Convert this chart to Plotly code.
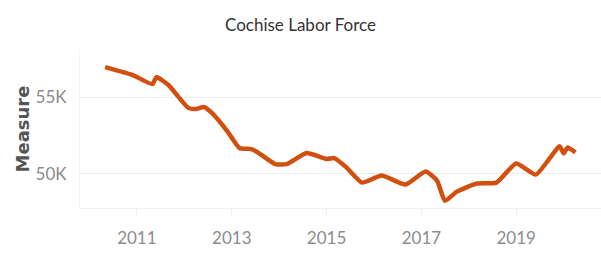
import plotly.graph_objects as go

dates = ["2010-05-01", "2010-12-01", "2011-05-01", "2011-06-01", "2011-09-01", "2012-02-01",
         "2012-04-01", "2012-06-01", "2012-08-01", "2012-12-01", "2013-03-01", "2013-06-01",
         "2013-07-15", "2013-12-01", "2014-03-01", "2014-08-01", "2015-01-01", "2015-03-01",
         "2015-06-01", "2015-10-01", "2016-03-01", "2016-09-01", "2017-02-01", "2017-05-01",
         "2017-07-01", "2017-10-01", "2018-03-01", "2018-08-01", "2019-01-01", "2019-06-01",
         "2019-12-01", "2020-01-01", "2020-02-01", "2020-04-01"]
labor_force = [56950, 56430, 55840, 56300, 55780, 54290,
               54220, 54350, 53960, 52730, 51670, 51600,
               51410, 50620, 50620, 51340, 50950, 51010,
               50420, 49410, 49870, 49280, 50130, 49540,
               48220, 48820, 49340, 49410, 50660, 49930,
               51780, 51320, 51710, 51380]
tick_vals = ["2011-01-01", "2013-01-01", "2015-01-01", "2017-01-01", "2019-01-01"]
tick_text = ["2011", "2013", "2015", "2017", "2019"]
y_tick_vals = [50000, 55000]
y_tick_text = ["50K", "55K"]

fig = go.Figure(go.Scatter(
    x=dates, y=labor_force, mode="lines",
    line=dict(color="#d2500f", width=4.5, shape="spline", smoothing=0.5),
))
fig.update_layout(
    width=601, height=255,
    margin=dict(l=80, r=0, t=50, b=47),
    paper_bgcolor="white", plot_bgcolor="white",
    showlegend=False,
    title=dict(text="Cochise Labor Force", x=0.5, xanchor="center", y=0.9, yanchor="middle",
               font=dict(family="Lato", size=17, color="#333333")),
)
fig.update_xaxes(
    range=["2009-10-20", "2020-10-15"], tickvals=tick_vals, ticktext=tick_text,
    showgrid=False, zeroline=False, showline=True, linecolor="#f2f2f2",
    ticks="outside", ticklen=8, tickcolor="#eeeeee", ticklabelstandoff=7,
    tickfont=dict(family="Lato", size=17, color="#8c8c8c"),
)
fig.update_yaxes(
    range=[47750, 58070], tickvals=y_tick_vals, ticktext=y_tick_text,
    showgrid=True, gridcolor="#ececec", zeroline=False,
    showline=True, linecolor="#f4f4f4", ticklabelstandoff=9,
    tickfont=dict(family="Lato", size=17, color="#8c8c8c"),
    title=dict(text="Measure", font=dict(family="DejaVu Sans", size=18, color="#555555", weight="bold"),
               standoff=1),
)
fig.write_html("out.html", config={"displayModeBar": False},
               post_script="document.body.style.margin='0';")
